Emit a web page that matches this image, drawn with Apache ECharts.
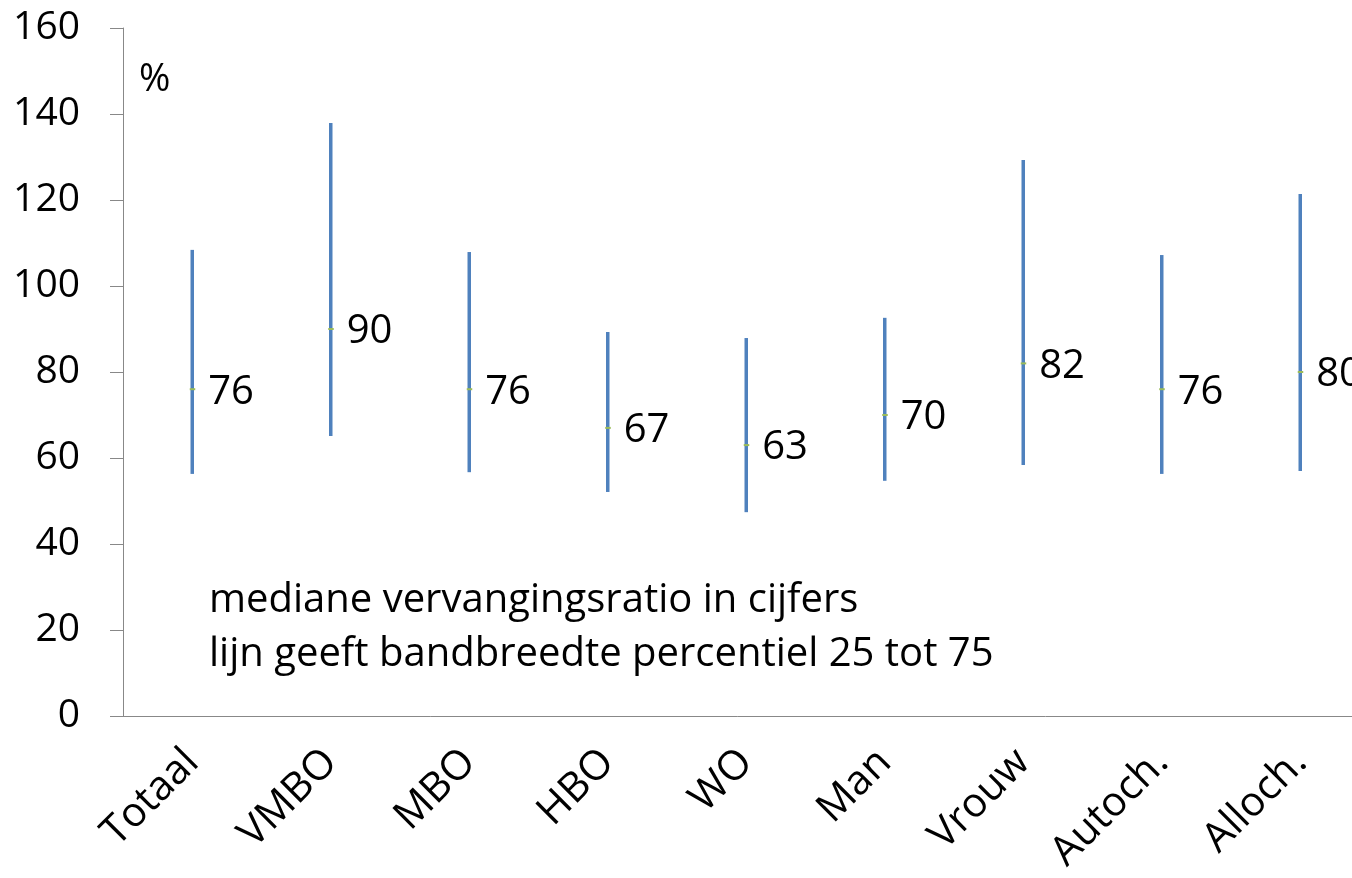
<!DOCTYPE html>
<html>
<head>
<meta charset="utf-8">
<script src="https://cdn.jsdelivr.net/npm/echarts@6/dist/echarts.min.js"></script>
<style>
html,body{margin:0;padding:0;background:#fff;}
#chart{width:1352px;height:878px;}
</style>
</head>
<body>
<div id="chart"></div>
<script>
// categorieen en percentielen (P25, mediaan, P75)
const categories = ["Totaal", "VMBO", "MBO", "HBO", "WO", "Man", "Vrouw", "Autoch.", "Alloch."];
const p25 = [56.3, 65.1, 56.7, 52.1, 47.4, 54.7, 58.4, 56.3, 57.0];
const median = [76, 90, 76, 67, 63, 70, 82, 76, 80];
const p75 = [108.4, 137.9, 107.9, 89.3, 87.9, 92.6, 129.3, 107.2, 121.4];
const yTicks = [0, 160, 20];

const FONT = "'Open Sans', sans-serif";

const seriesData = categories.map((c, i) => [i, p25[i], median[i], p75[i]]);

const chart = echarts.init(document.getElementById("chart"));

chart.setOption({
    animation: false,
    grid: {
        left: 123,
        top: 28,
        bottom: 162,
        right: -17.5,
        outerBoundsMode: "none",
        containLabel: false
    },
    xAxis: {
        type: "category",
        data: categories,
        boundaryGap: true,
        axisLine: { lineStyle: { color: "#888", width: 1 } },
        axisTick: { length: 15, lineStyle: { color: "#aaa" } },
        axisLabel: {
            rotate: 45,
            interval: 0,
            margin: 40,
            padding: [22, 0, 0, 0],
            color: "#000",
            fontFamily: FONT,
            fontSize: 41
        }
    },
    yAxis: {
        type: "value",
        min: yTicks[0],
        max: yTicks[1],
        interval: yTicks[2],
        axisLine: { show: true, lineStyle: { color: "#888", width: 1 } },
        axisTick: { show: true, length: 13, lineStyle: { color: "#888" } },
        splitLine: { show: false },
        axisLabel: {
            margin: 43,
            color: "#000",
            fontFamily: FONT,
            fontSize: 39
        }
    },
    graphic: [
        {
            type: "text",
            left: 139,
            top: 61,
            style: { text: "%", fill: "#000", font: "38px " + FONT }
        },
        {
            type: "text",
            left: 209,
            top: 574,
            style: {
                text: "mediane vervangingsratio in cijfers\nlijn geeft bandbreedte percentiel 25 tot 75",
                fill: "#000",
                font: "40px " + FONT,
                lineHeight: 54
            }
        }
    ],
    series: [{
        type: "custom",
        data: seriesData,
        renderItem: function (params, api) {
            const x = api.value(0);
            const lo = api.coord([x, api.value(1)]);
            const md = api.coord([x, api.value(2)]);
            const hi = api.coord([x, api.value(3)]);
            return {
                type: "group",
                children: [
                    {
                        type: "line",
                        shape: { x1: lo[0], y1: lo[1], x2: hi[0], y2: hi[1] },
                        style: { stroke: "#4F81BD", lineWidth: 3.5 }
                    },
                    {
                        type: "line",
                        shape: { x1: md[0] - 2.5, y1: md[1], x2: md[0] + 3, y2: md[1] },
                        style: { stroke: "#9BBB59", lineWidth: 2 }
                    },
                    {
                        type: "text",
                        x: md[0] + 16,
                        y: md[1] + 3,
                        style: {
                            text: String(api.value(2)),
                            fill: "#000",
                            font: "40px " + FONT,
                            align: "left",
                            verticalAlign: "middle"
                        }
                    }
                ]
            };
        }
    }]
});
</script>
</body>
</html>
